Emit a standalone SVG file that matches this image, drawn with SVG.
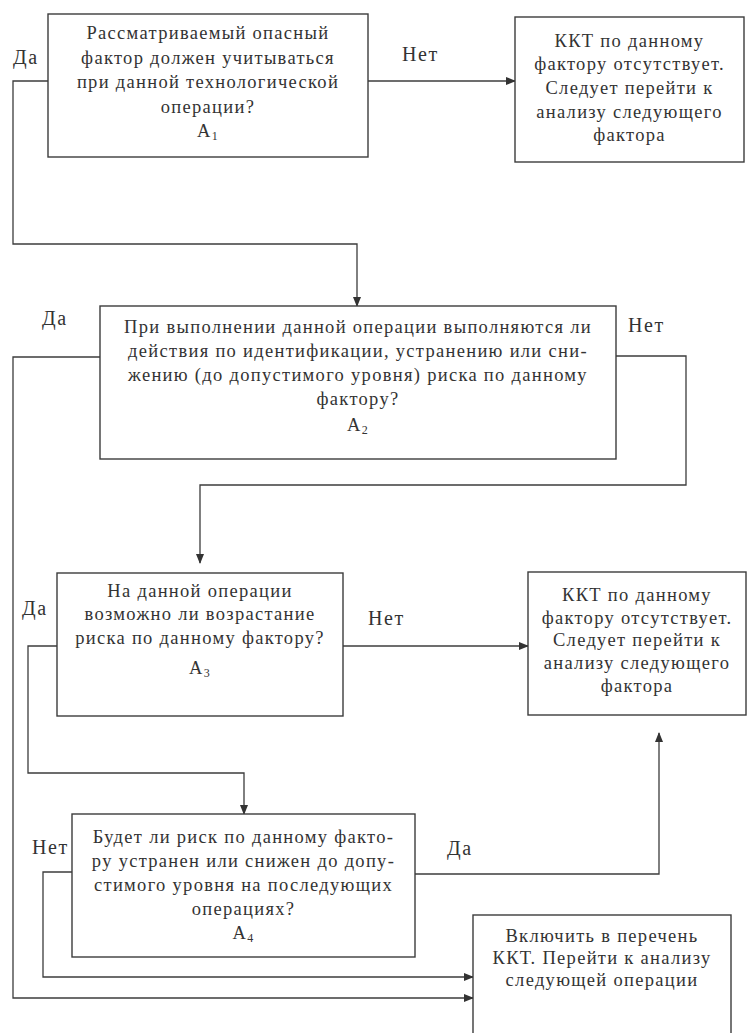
<svg xmlns="http://www.w3.org/2000/svg" width="749" height="1033" viewBox="0 0 749 1033">
<style>
.box{fill:#fff;stroke:#3c3c3c;stroke-width:1.4}
.t{font-family:"Liberation Serif","Times New Roman",serif;font-size:18.5px;fill:#333;text-anchor:middle;letter-spacing:1.3px}
.lbl{font-family:"Liberation Serif","Times New Roman",serif;font-size:20px;fill:#333;letter-spacing:1.6px}
.sub{font-size:12px}
.c{fill:none;stroke:#3c3c3c;stroke-width:1.3}
</style>
<defs>
<marker id="ah" markerWidth="10" markerHeight="8" refX="9" refY="4" orient="auto" markerUnits="userSpaceOnUse">
<path d="M0,0 L10,4 L0,8 Z" fill="#333"/>
</marker>
</defs>
<rect width="749" height="1033" fill="#fff"/>
<g id="connectors">
<path class="c" d="M368,81 H515" marker-end="url(#ah)"/>
<path class="c" d="M48,81 H13 V244 H357 V306" marker-end="url(#ah)"/>
<path class="c" d="M100,357 H13 V998 H473" marker-end="url(#ah)"/>
<path class="c" d="M616,356 H686 V485 H200 V563" marker-end="url(#ah)"/>
<path class="c" d="M343,646 H528" marker-end="url(#ah)"/>
<path class="c" d="M57,646 H28 V773 H244 V814" marker-end="url(#ah)"/>
<path class="c" d="M415,874 H659 V733" marker-end="url(#ah)"/>
<path class="c" d="M72,872 H43 V977 H473" marker-end="url(#ah)"/>
</g>
<g id="labels">
<text class="lbl" x="13" y="64">Да</text>
<text class="lbl" x="402" y="61">Нет</text>
<text class="lbl" x="42" y="325">Да</text>
<text class="lbl" x="628" y="332">Нет</text>
<text class="lbl" x="22" y="615">Да</text>
<text class="lbl" x="368" y="625">Нет</text>
<text class="lbl" x="32" y="854">Нет</text>
<text class="lbl" x="447" y="855">Да</text>
</g>
<g id="n1">
<rect class="box" x="48" y="14" width="320" height="143"/>
<text class="t" x="208" y="39">Рассматриваемый опасный</text>
<text class="t" x="208" y="63.5">фактор должен учитываться</text>
<text class="t" x="208" y="88">при данной технологической</text>
<text class="t" x="208" y="112.5">операции?</text>
<text class="t" x="208" y="137">А<tspan class="sub" dy="3">1</tspan></text>
</g>
<g id="n2">
<rect class="box" x="515" y="17" width="229" height="145"/>
<text class="t" x="629.5" y="47">ККТ по данному</text>
<text class="t" x="629.5" y="70">фактору отсутствует.</text>
<text class="t" x="629.5" y="94">Следует перейти к</text>
<text class="t" x="629.5" y="118">анализу следующего</text>
<text class="t" x="629.5" y="141">фактора</text>
</g>
<g id="n3">
<rect class="box" x="100" y="306" width="516" height="153"/>
<text class="t" x="358" y="333">При выполнении данной операции выполняются ли</text>
<text class="t" x="358" y="357">действия по идентификации, устранению или сни-</text>
<text class="t" x="358" y="381">жению (до допустимого уровня) риска по данному</text>
<text class="t" x="358" y="405">фактору?</text>
<text class="t" x="358" y="431">А<tspan class="sub" dy="3">2</tspan></text>
</g>
<g id="n4">
<rect class="box" x="57" y="573" width="286" height="143"/>
<text class="t" x="200" y="597">На данной операции</text>
<text class="t" x="200" y="620">возможно ли возрастание</text>
<text class="t" x="200" y="644">риска по данному фактору?</text>
<text class="t" x="200" y="674">А<tspan class="sub" dy="3">3</tspan></text>
</g>
<g id="n5">
<rect class="box" x="528" y="572" width="218" height="143"/>
<text class="t" x="637" y="601">ККТ по данному</text>
<text class="t" x="637" y="624">фактору отсутствует.</text>
<text class="t" x="637" y="646">Следует перейти к</text>
<text class="t" x="637" y="669">анализу следующего</text>
<text class="t" x="637" y="692">фактора</text>
</g>
<g id="n6">
<rect class="box" x="72" y="814" width="343" height="143"/>
<text class="t" x="243.5" y="843">Будет ли риск по данному факто-</text>
<text class="t" x="243.5" y="867">ру устранен или снижен до допу-</text>
<text class="t" x="243.5" y="891">стимого уровня на последующих</text>
<text class="t" x="243.5" y="915">операциях?</text>
<text class="t" x="243.5" y="939">А<tspan class="sub" dy="3">4</tspan></text>
</g>
<g id="n7">
<rect class="box" x="473" y="915" width="258" height="130"/>
<text class="t" x="602" y="942">Включить в перечень</text>
<text class="t" x="602" y="964">ККТ. Перейти к анализу</text>
<text class="t" x="602" y="986">следующей операции</text>
</g>
</svg>
